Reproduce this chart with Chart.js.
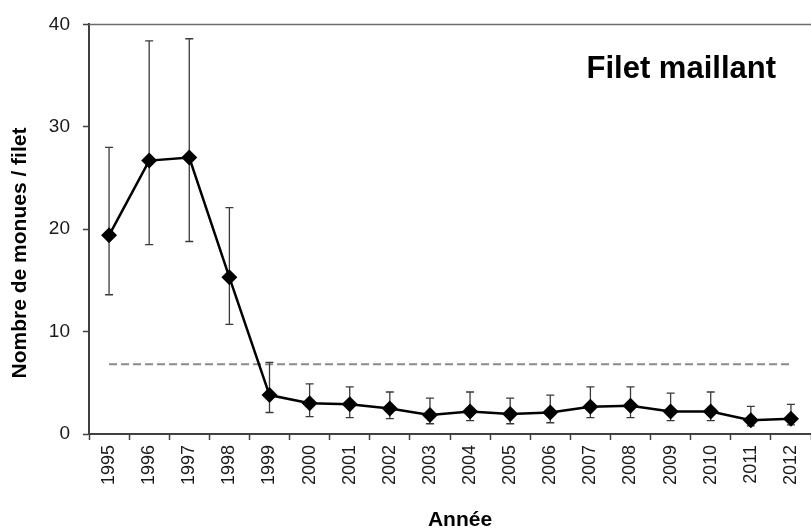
<!DOCTYPE html>
<html>
<head>
<meta charset="utf-8">
<script src="https://cdn.jsdelivr.net/npm/chart.js@4/dist/chart.umd.min.js"></script>
<style>
  html, body { margin: 0; padding: 0; background: #fff; }
  #wrap { width: 811px; height: 531px; }
</style>
</head>
<body>
<div id="wrap"><canvas id="chart-morues"></canvas></div>
<script>
// Données (moyenne + barres d'erreur)
const annees = ['1995', '1996', '1997', '1998', '1999', '2000', '2001', '2002', '2003',
                '2004', '2005', '2006', '2007', '2008', '2009', '2010', '2011', '2012'];
const moyennes = [19.4, 26.7, 27.0, 15.3, 3.8, 3.0, 2.9, 2.5, 1.85, 2.2, 1.95, 2.1, 2.65, 2.75, 2.2, 2.2, 1.35, 1.5];
const bornesHautes = [28.0, 38.4, 38.6, 22.1, 7.0, 4.9, 4.6, 4.1, 3.5, 4.1, 3.5, 3.8, 4.6, 4.6, 4.0, 4.1, 2.7, 2.9];
const bornesBasses = [13.6, 18.5, 18.8, 10.7, 2.1, 1.7, 1.6, 1.5, 1.0, 1.3, 1.0, 1.1, 1.6, 1.6, 1.3, 1.3, 0.8, 0.9];
const seuil = 6.8;
const ticksY = [0, 10, 20, 30, 40];

const titre = 'Filet maillant';
const titreY = 'Nombre de monues / filet';
const titreX = 'Année';

const police = '"Liberation Sans", Arial, sans-serif';

// --- Barres d'erreur (dessinées après la ligne pointillée, sous la série) ---
const barresErreur = {
    id: 'barresErreur',
    afterDatasetDraw(chart, args) {
        if (args.index !== 1) return;
        const ctx = chart.ctx;
        const x = chart.scales.x, y = chart.scales.y;
        ctx.save();
        ctx.strokeStyle = '#3a3a3a';
        ctx.lineWidth = 1.3;
        annees.forEach((a, i) => {
            const px = x.getPixelForValue(i);
            const haut = y.getPixelForValue(bornesHautes[i]);
            const bas = y.getPixelForValue(bornesBasses[i]);
            ctx.beginPath();
            ctx.moveTo(px, haut); ctx.lineTo(px, bas);
            ctx.moveTo(px - 4, haut); ctx.lineTo(px + 4, haut);
            ctx.moveTo(px - 4, bas); ctx.lineTo(px + 4, bas);
            ctx.stroke();
        });
        ctx.restore();
    }
};

// --- Cadre du haut + titres ---
const decor = {
    id: 'decor',
    afterDraw(chart) {
        const ctx = chart.ctx;
        const area = chart.chartArea;
        ctx.save();
        ctx.strokeStyle = '#6b6b6b';
        ctx.lineWidth = 1.5;
        ctx.beginPath();
        ctx.moveTo(area.left, area.top);
        ctx.lineTo(chart.width, area.top);
        ctx.stroke();

        ctx.fillStyle = '#000';
        ctx.font = 'bold 31px ' + police;
        ctx.textAlign = 'right';
        ctx.textBaseline = 'alphabetic';
        ctx.fillText(titre, 776, 78);

        ctx.font = 'bold 21px ' + police;
        ctx.textAlign = 'center';
        ctx.textBaseline = 'middle';
        ctx.fillText(titreX, 460, 520);

        ctx.translate(20, 253);
        ctx.rotate(-Math.PI / 2);
        ctx.fillText(titreY, 0, 0);
        ctx.restore();
    }
};

new Chart(document.getElementById('chart-morues'), {
    type: 'line',
    data: {
        labels: annees,
        datasets: [{
            label: 'Morues / filet',
            data: moyennes,
            borderColor: '#000',
            backgroundColor: '#000',
            borderWidth: 2.5,
            pointStyle: 'rectRot',
            pointRadius: 8,
            pointBorderWidth: 0,
            tension: 0
        }, {
            label: 'Seuil',
            data: annees.map(() => seuil),
            borderColor: '#8a8a8a',
            borderWidth: 2,
            borderDash: [8, 4],
            pointRadius: 0,
            tension: 0
        }]
    },
    options: {
        responsive: true,
        maintainAspectRatio: false,
        animation: false,
        layout: { autoPadding: false, padding: { top: 23, right: 0, left: 0, bottom: 0 } },
        plugins: { legend: { display: false }, tooltip: { enabled: false } },
        scales: {
            x: {
                offset: true,
                grid: { offset: true, drawOnChartArea: false, tickLength: 6, tickColor: '#404040', tickWidth: 1.5 },
                border: { color: '#404040', width: 2 },
                ticks: {
                    color: '#1a1a1a',
                    font: { family: police, size: 18 },
                    minRotation: 90, maxRotation: 90,
                    padding: 5,
                    autoSkip: false
                },
                afterFit(scale) {
                    scale.height = 97;
                    scale.paddingLeft = 0;
                    scale.paddingRight = 0;
                }
            },
            y: {
                min: 0, max: 40,
                afterBuildTicks(scale) { scale.ticks = ticksY.map(v => ({ value: v })); },
                grid: { drawOnChartArea: false, tickLength: 6, tickColor: '#404040', tickWidth: 1.5 },
                border: { color: '#404040', width: 2 },
                ticks: {
                    color: '#1a1a1a',
                    font: { family: police, size: 19 },
                    padding: 13
                },
                afterFit(scale) { scale.width = 89; }
            }
        }
    },
    plugins: [barresErreur, decor]
});
</script>
</body>
</html>
